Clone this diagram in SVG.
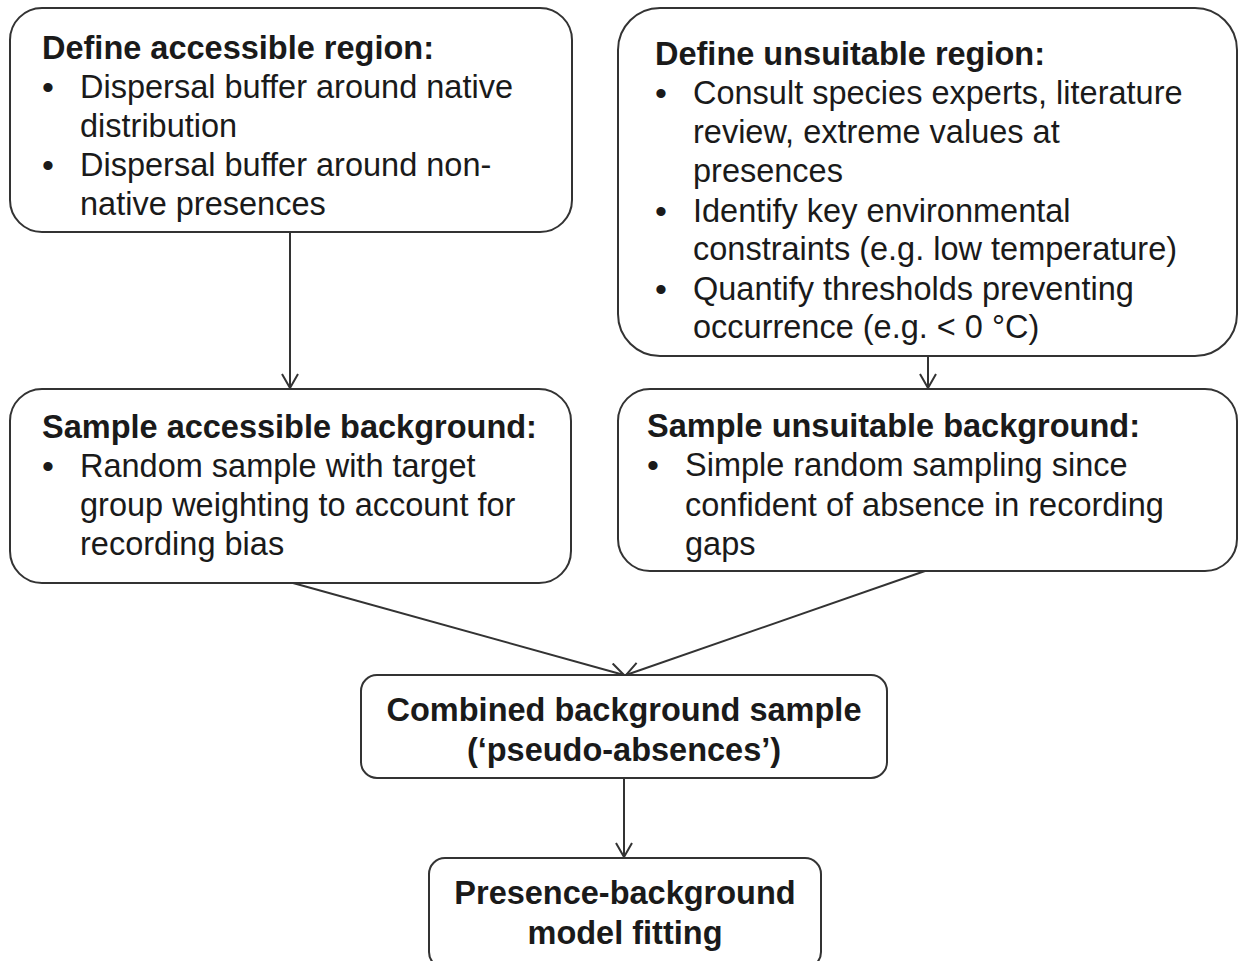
<svg xmlns="http://www.w3.org/2000/svg" width="1238" height="961" viewBox="0 0 1238 961">
<style>
.box{fill:#fff;stroke:#333;stroke-width:2}
.t{font-family:"Liberation Sans",Arial,sans-serif;font-size:32.5px;fill:#1a1a1a}
.bl{font-size:34px}
.b{font-weight:bold}
.c{text-anchor:middle}
.con{stroke:#333;stroke-width:2;fill:none;marker-end:url(#arr)}
</style>
<defs>
<marker id="arr" markerWidth="24" markerHeight="24" refX="15" refY="9" orient="auto" markerUnits="userSpaceOnUse">
<path d="M1,1 L15,9 L1,17" fill="none" stroke="#333" stroke-width="2"/>
</marker>
</defs>
<rect width="1238" height="961" fill="#fff"/>
<g id="connectors">
<line class="con" x1="290" y1="232" x2="290" y2="388"/>
<line class="con" x1="928" y1="356" x2="928" y2="388"/>
<line class="con" x1="293" y1="583" x2="624" y2="675"/>
<line class="con" x1="925" y1="571" x2="626" y2="675"/>
<line class="con" x1="624" y1="778" x2="624" y2="857"/>
</g>
<g id="n1">
<rect class="box" x="10" y="8" width="562" height="224" rx="32"/>
<text class="t b" x="42" y="59">Define accessible region:</text>
<text class="t bl" x="42" y="99">•</text><text class="t" x="80" y="98">Dispersal buffer around native</text>
<text class="t" x="80" y="137">distribution</text>
<text class="t bl" x="42" y="177">•</text><text class="t" x="80" y="176">Dispersal buffer around non-</text>
<text class="t" x="80" y="215">native presences</text>
</g>
<g id="n2">
<rect class="box" x="618" y="8" width="619" height="348" rx="42"/>
<text class="t b" x="655" y="65">Define unsuitable region:</text>
<text class="t bl" x="655" y="105">•</text><text class="t" x="693" y="104">Consult species experts, literature</text>
<text class="t" x="693" y="143">review, extreme values at</text>
<text class="t" x="693" y="182">presences</text>
<text class="t bl" x="655" y="223">•</text><text class="t" x="693" y="222">Identify key environmental</text>
<text class="t" x="693" y="260">constraints (e.g. low temperature)</text>
<text class="t bl" x="655" y="301">•</text><text class="t" x="693" y="300">Quantify thresholds preventing</text>
<text class="t" x="693" y="338">occurrence (e.g. &lt; 0 °C)</text>
</g>
<g id="n3">
<rect class="box" x="10" y="389" width="561" height="194" rx="32"/>
<text class="t b" x="42" y="438">Sample accessible background:</text>
<text class="t bl" x="42" y="478">•</text><text class="t" x="80" y="477">Random sample with target</text>
<text class="t" x="80" y="516">group weighting to account for</text>
<text class="t" x="80" y="555">recording bias</text>
</g>
<g id="n4">
<rect class="box" x="618" y="389" width="619" height="182" rx="32"/>
<text class="t b" x="647" y="437">Sample unsuitable background:</text>
<text class="t bl" x="647" y="477">•</text><text class="t" x="685" y="476">Simple random sampling since</text>
<text class="t" x="685" y="516">confident of absence in recording</text>
<text class="t" x="685" y="555">gaps</text>
</g>
<g id="n5">
<rect class="box" x="361" y="675" width="526" height="103" rx="16"/>
<text class="t b c" x="624" y="721">Combined background sample</text>
<text class="t b c" x="624" y="761">(‘pseudo-absences’)</text>
</g>
<g id="n6">
<rect class="box" x="429" y="858" width="392" height="110" rx="16"/>
<text class="t b c" x="625" y="904">Presence-background</text>
<text class="t b c" x="625" y="944">model fitting</text>
</g>
</svg>
